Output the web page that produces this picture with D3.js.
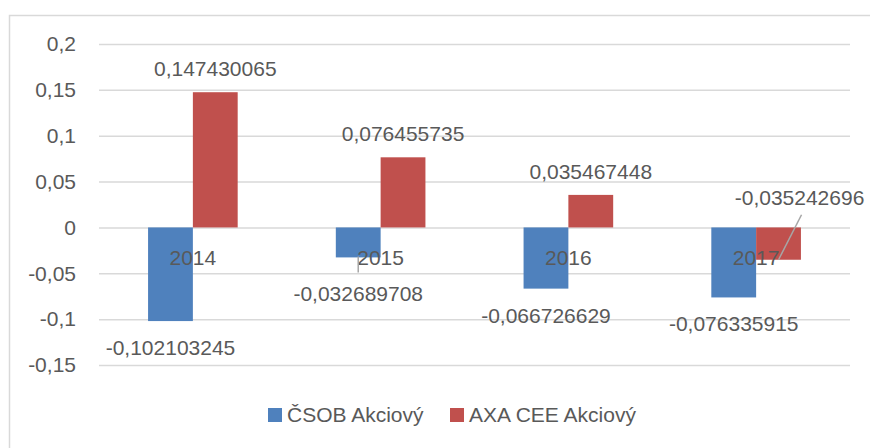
<!DOCTYPE html>
<html>
<head>
<meta charset="utf-8">
<script src="https://cdn.jsdelivr.net/npm/d3@7"></script>
<style>
  body { margin: 0; background: #fff; }
  svg text { font-family: "Liberation Sans", "Noto Sans", sans-serif; fill: #595959; }
</style>
</head>
<body>
<div class="chart"></div>
<script>
const years = ['2014', '2015', '2016', '2017'];
const seriesNames = ['ČSOB Akciový', 'AXA CEE Akciový'];
const csob = [-0.102103245, -0.032689708, -0.066726629, -0.076335915];
const axa = [0.147430065, 0.076455735, 0.035467448, -0.035242696];
const yTicks = [-0.15, -0.1, -0.05, 0, 0.05, 0.1, 0.15, 0.2];
const colors = ['#4f81bd', '#c0504d'];

const w = 870, h = 448;
const plot = {left: 99, right: 850, top: 44, bottom: 365};
const fs = '21px';

const svg = d3.select('.chart').append('svg')
  .attr('width', w)
  .attr('height', h);

// outer chart border
svg.append('rect')
  .attr('x', 9.5).attr('y', 15.5)
  .attr('width', 880).attr('height', 460)
  .attr('fill', 'none')
  .attr('stroke', '#d9d9d9')
  .attr('stroke-width', 1.5);

const x0 = d3.scaleBand().domain(years).range([plot.left, plot.right]);
const bw = x0.bandwidth() / (2 + 2.19);
const x1 = d3.scaleBand().domain([0, 1]).range([x0.bandwidth() / 2 - bw, x0.bandwidth() / 2 + bw]);

const y = d3.scaleLinear().domain([-0.15, 0.2]).range([plot.bottom, plot.top]);
const fmt = v => String(+v.toFixed(9)).replace('.', ',');

// gridlines + y labels
svg.append('g')
  .attr('transform', `translate(${plot.left},0)`)
  .call(d3.axisLeft(y).tickValues(yTicks).tickSize(-(plot.right - plot.left)).tickPadding(23)
    .tickFormat(d => d === 0 ? '0' : String(d).replace('.', ',')))
  .call(g => g.select('.domain').remove())
  .call(g => g.selectAll('line').attr('stroke', '#d9d9d9').attr('stroke-width', 1.5))
  .call(g => g.selectAll('text').style('font-size', fs).attr('fill', '#595959'));

const data = years.map((yr, i) => ({year: yr, vals: [csob[i], axa[i]]}));

const groups = svg.selectAll('.grp').data(data).enter().append('g')
  .attr('class', 'grp')
  .attr('transform', d => `translate(${x0(d.year)},0)`);

groups.selectAll('rect').data(d => d.vals.map((v, s) => ({v, s}))).enter().append('rect')
  .attr('x', d => x1(d.s))
  .attr('width', x1.bandwidth())
  .attr('y', d => y(Math.max(0, d.v)))
  .attr('height', d => Math.abs(y(d.v) - y(0)))
  .attr('fill', d => colors[d.s]);

// category labels near zero line
svg.append('g').selectAll('text').data(years).enter().append('text')
  .attr('x', d => x0(d) + x0.bandwidth() / 2)
  .attr('y', y(0) + 38)
  .attr('text-anchor', 'middle')
  .style('font-size', fs)
  .text(d => d);

// data labels; two were dragged off their bars in the source and get leader lines
data.forEach((d, i) => {
  d.vals.forEach((v, s) => {
    const cx = x0(d.year) + x1(s) + x1.bandwidth() / 2;
    const end = y(v);
    let lx = cx, ly = v >= 0 ? end - 16 : end + 34;
    if (s === 0 && i === 1) {
      ly = end + 44;
      svg.append('line').attr('x1', cx).attr('x2', cx)
        .attr('y1', end - 1).attr('y2', end + 15)
        .attr('stroke', '#a6a6a6').attr('stroke-width', 1.5);
    }
    if (s === 1 && i === 3) {
      lx = cx + 21; ly = end - 55;
      svg.append('line').attr('x1', cx).attr('y1', end)
        .attr('x2', cx + 23).attr('y2', end - 45)
        .attr('stroke', '#a6a6a6').attr('stroke-width', 1.5);
    }
    svg.append('text')
      .attr('x', lx).attr('y', ly)
      .attr('text-anchor', 'middle')
      .style('font-size', fs)
      .text(fmt(v));
  });
});

// legend
const legend = svg.append('g');
const legX = [268, 450];
seriesNames.forEach((n, i) => {
  legend.append('rect').attr('x', legX[i]).attr('y', 408).attr('width', 14).attr('height', 14).attr('fill', colors[i]);
  legend.append('text').attr('x', legX[i] + 19).attr('y', 422).style('font-size', fs).text(n);
});
</script>
</body>
</html>
